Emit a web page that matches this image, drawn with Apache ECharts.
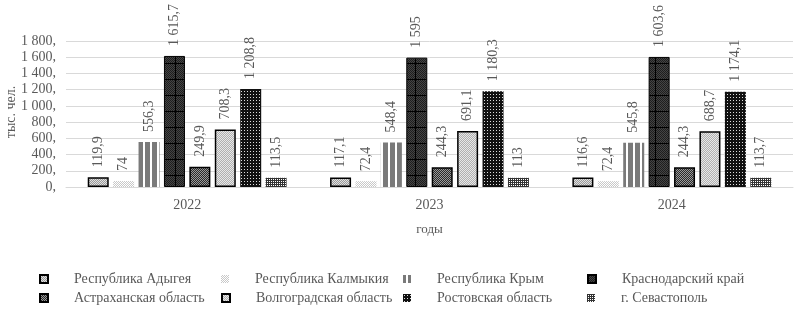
<!DOCTYPE html>
<html><head><meta charset="utf-8">
<script src="https://cdn.jsdelivr.net/npm/echarts@6/dist/echarts.min.js"></script>
<style>html,body{margin:0;padding:0;background:#fff}#c{width:796px;height:314px}</style>
</head><body><div id="c"></div>
<script>
var years = ['2022', '2023', '2024'];
var seriesNames = ['Республика Адыгея', 'Республика Калмыкия', 'Республика Крым', 'Краснодарский край',
  'Астраханская область', 'Волгоградская область', 'Ростовская область', 'г. Севастополь'];
var adygea = [119.9, 117.1, 116.6];
var kalmykia = [74, 72.4, 72.4];
var crimea = [556.3, 548.4, 545.8];
var krasnodar = [1615.7, 1595, 1603.6];
var astrakhan = [249.9, 244.3, 244.3];
var volgograd = [708.3, 691.1, 688.7];
var rostov = [1208.8, 1180.3, 1174.1];
var sevastopol = [113.5, 113, 113.7];
var allData = [adygea, kalmykia, crimea, krasnodar, astrakhan, volgograd, rostov, sevastopol];
var yTicks = [0, 200, 400, 600, 800, 1000, 1200, 1400, 1600, 1800];
var yAxisTitle = 'тыс. чел.';

function pat(w, h, draw) {
  var c = document.createElement('canvas'); c.width = w; c.height = h;
  var g = c.getContext('2d'); draw(g);
  return { image: c, repeat: 'repeat' };
}
function checker(a, b) {
  return pat(2, 2, function (g) {
    g.fillStyle = a; g.fillRect(0, 0, 2, 2);
    g.fillStyle = b; g.fillRect(0, 0, 1, 1); g.fillRect(1, 1, 1, 1);
  });
}
var styles = [
  { color: checker('#9a9a9a', '#e0e0e0'), borderColor: '#000', borderWidth: 1.5 },
  { color: checker('#c8c8c8', '#ffffff'), borderWidth: 0 },
  { color: pat(7, 2, function (g) { g.fillStyle = '#7a7a7a'; g.fillRect(0, 0, 7, 2); g.fillStyle = '#fff'; g.fillRect(3, 0, 2, 2); }), borderWidth: 0 },
  { color: pat(16, 16, function (g) { g.fillStyle = '#1e1e1e'; g.fillRect(0, 0, 16, 16); g.fillStyle = '#444'; for (var i = 0; i < 16; i++) for (var j = 0; j < 16; j++) if ((i + j) % 2) g.fillRect(i, j, 1, 1); g.fillStyle = '#000'; g.fillRect(0, 15, 16, 1); g.fillRect(15, 0, 1, 16); }), borderColor: '#000', borderWidth: 1 },
  { color: checker('#2a2a2a', '#9a9a9a'), borderColor: '#000', borderWidth: 1.5 },
  { color: checker('#b0b0b0', '#e8e8e8'), borderColor: '#000', borderWidth: 1.5 },
  { color: pat(3, 3, function (g) { g.fillStyle = '#111'; g.fillRect(0, 0, 3, 3); g.fillStyle = '#ddd'; g.fillRect(1, 1, 1, 1); }), borderWidth: 0 },
  { color: pat(2, 2, function (g) { g.fillStyle = '#fff'; g.fillRect(0, 0, 2, 2); g.fillStyle = '#333'; g.fillRect(0, 0, 2, 1); g.fillRect(0, 0, 1, 2); }), borderWidth: 0 }
];

function fmtNum(v) {
  var s = String(v).split('.');
  var ip = s[0].replace(/\B(?=(\d{3})+(?!\d))/g, ' ');
  return s.length > 1 ? ip + ',' + s[1] : ip;
}
var FONT = 'Liberation Serif';
var GREY = '#595959';

var series = seriesNames.map(function (n, i) {
  return {
    name: n, type: 'bar', data: allData[i], barWidth: 21, barGap: '21%',
    itemStyle: styles[i],
    label: {
      show: true, position: 'top', rotate: 90, align: 'left', verticalAlign: 'middle', distance: 10,
      color: GREY, fontFamily: FONT, fontSize: 14,
      formatter: function (p) { return fmtNum(p.value); }
    }
  };
});

var colX = [34, 216, 398, 582];
var rowY = [267, 286];
var legends = seriesNames.map(function (n, i) {
  return {
    data: [n], left: colX[i % 4], top: rowY[Math.floor(i / 4)], itemWidth: 8, itemHeight: 8,
    icon: 'rect', selectedMode: false,
    textStyle: { fontFamily: FONT, fontSize: 14, color: GREY, padding: [0, 0, 0, 21] }
  };
});

var chart = echarts.init(document.getElementById('c'), null, { renderer: 'canvas' });
chart.setOption({
  animation: false,
  backgroundColor: '#fff',
  grid: { left: 66, right: 3, top: 41, bottom: 127, outerBoundsMode: 'none', containLabel: false },
  legend: legends,
  graphic: [{
    type: 'text', x: 11, y: 112, rotation: Math.PI / 2,
    style: { text: yAxisTitle, fontFamily: FONT, fontSize: 14, fill: GREY, align: 'center', verticalAlign: 'middle' }
  }],
  xAxis: {
    type: 'category', data: years,
    name: 'годы', nameLocation: 'middle', nameGap: 36,
    nameTextStyle: { fontFamily: FONT, fontSize: 13, color: GREY },
    axisLine: { show: true, lineStyle: { color: '#d9d9d9' } },
    axisTick: { show: false },
    axisLabel: { fontFamily: FONT, fontSize: 14, color: GREY, margin: 11 }
  },
  yAxis: {
    type: 'value', min: 0, max: 1800, interval: 200,
    axisLine: { show: false }, axisTick: { show: false },
    splitLine: { lineStyle: { color: '#d9d9d9' } },
    axisLabel: {
      fontFamily: FONT, fontSize: 14, color: GREY, margin: 10,
      customValues: yTicks,
      formatter: function (v) { return fmtNum(v) + ','; }
    }
  },
  series: series
});
</script></body></html>
